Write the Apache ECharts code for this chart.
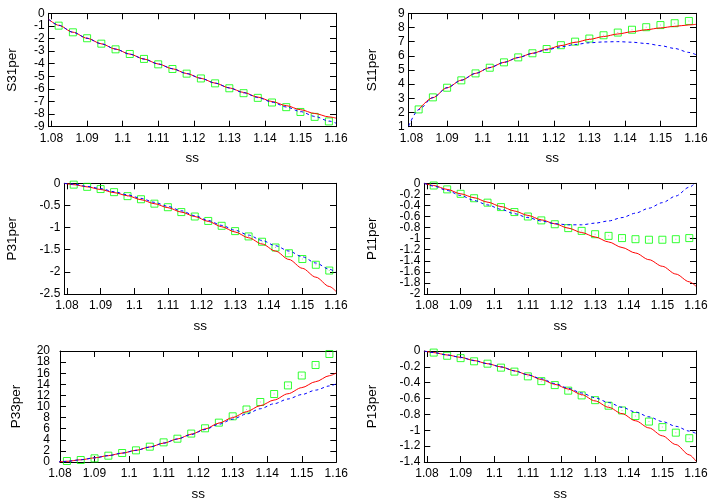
<!DOCTYPE html>
<html><head><meta charset="utf-8">
<script src="https://cdn.jsdelivr.net/npm/echarts@6/dist/echarts.min.js"></script>
<style>html,body{margin:0;padding:0;background:#fff}#c{width:720px;height:504px}</style>
</head><body><div id="c"></div>
<script>
// ---- data ----
const xTicks = [1.08, 1.09, 1.10, 1.11, 1.12, 1.13, 1.14, 1.15, 1.16];
const squareX = [1.082,1.086,1.090,1.094,1.098,1.102,1.106,1.110,1.114,1.118,1.122,1.126,1.130,1.134,1.138,1.142,1.146,1.150,1.154,1.158];
const lineX = [1.0792,1.082,1.086,1.090,1.094,1.098,1.102,1.106,1.110,1.114,1.118,1.122,1.126,1.130,1.134,1.138,1.142,1.146,1.150,1.154,1.158,1.16];

const panelNames = ['S31per','S11per','P31per','P11per','P33per','P13per'];
const xLabel = 'ss';

// y tick labels per panel (ascending)
const s31Ticks = [-9,-8,-7,-6,-5,-4,-3,-2,-1,0];
const s11Ticks = [1,2,3,4,5,6,7,8,9];
const p31Ticks = [-2.5,-2,-1.5,-1,-0.5,0];
const p11Ticks = [-2,-1.8,-1.6,-1.4,-1.2,-1,-0.8,-0.6,-0.4,-0.2,0];
const p33Ticks = [0,2,4,6,8,10,12,14,16,18,20];
const p13Ticks = [-1.4,-1.2,-1,-0.8,-0.6,-0.4,-0.2,0];

const s31Squares = [-0.98,-1.51,-1.98,-2.41,-2.86,-3.23,-3.62,-4.05,-4.42,-4.79,-5.17,-5.56,-5.95,-6.34,-6.71,-7.08,-7.45,-7.83,-8.22,-8.58];
const s31Red  = [-0.48,-0.95,-1.5,-1.98,-2.42,-2.84,-3.24,-3.63,-4.02,-4.4,-4.78,-5.16,-5.54,-5.92,-6.28,-6.65,-7.0,-7.33,-7.65,-7.95,-8.22,-8.32];
const s31Blue = [-0.48,-0.95,-1.5,-1.98,-2.42,-2.84,-3.24,-3.63,-4.02,-4.4,-4.78,-5.16,-5.54,-5.92,-6.3,-6.68,-7.05,-7.43,-7.8,-8.18,-8.55,-8.72];

const s11Squares = [2.22,3.07,3.75,4.27,4.76,5.16,5.54,5.89,6.18,6.48,6.75,7.0,7.22,7.45,7.64,7.84,8.02,8.17,8.3,8.46];
const s11Red  = [null,2.2,3.05,3.75,4.28,4.76,5.17,5.54,5.88,6.18,6.46,6.72,6.95,7.16,7.36,7.54,7.7,7.84,7.97,8.08,8.18,8.22];
const s11Blue = [1.05,2.2,3.05,3.75,4.28,4.76,5.17,5.54,5.88,6.17,6.42,6.63,6.8,6.92,6.98,7.0,6.96,6.87,6.72,6.52,6.24,6.08];

const p31Squares = [-0.03,-0.08,-0.13,-0.2,-0.29,-0.36,-0.46,-0.54,-0.65,-0.75,-0.85,-0.96,-1.08,-1.2,-1.32,-1.45,-1.58,-1.71,-1.84,-1.97];
const p31Red  = [0.0,-0.03,-0.08,-0.14,-0.21,-0.28,-0.37,-0.46,-0.55,-0.65,-0.75,-0.86,-0.98,-1.1,-1.23,-1.37,-1.53,-1.72,-1.92,-2.12,-2.33,-2.44];
const p31Blue = [0.0,-0.02,-0.07,-0.12,-0.19,-0.26,-0.34,-0.43,-0.52,-0.62,-0.73,-0.84,-0.95,-1.06,-1.17,-1.29,-1.41,-1.53,-1.66,-1.8,-1.94,-2.01];

const p11Squares = [-0.04,-0.11,-0.19,-0.27,-0.35,-0.43,-0.52,-0.6,-0.67,-0.74,-0.81,-0.86,-0.92,-0.95,-0.99,-1.01,-1.02,-1.02,-1.01,-0.99];
const p11Red  = [0.0,-0.04,-0.11,-0.19,-0.26,-0.34,-0.42,-0.5,-0.58,-0.66,-0.73,-0.81,-0.89,-0.97,-1.06,-1.16,-1.26,-1.38,-1.5,-1.64,-1.78,-1.86];
const p11Blue = [0.0,-0.05,-0.13,-0.22,-0.31,-0.39,-0.47,-0.55,-0.62,-0.68,-0.73,-0.75,-0.75,-0.72,-0.68,-0.62,-0.54,-0.45,-0.35,-0.23,-0.07,0.02];

const p33Squares = [0.18,0.36,0.66,1.14,1.62,2.1,2.76,3.54,4.2,5.12,6.07,7.09,8.23,9.46,10.81,12.25,13.8,15.58,17.48,19.46];
const p33Red  = [0.0,0.12,0.4,0.75,1.15,1.6,2.1,2.7,3.4,4.15,5.0,5.95,7.0,8.0,9.07,10.15,11.17,12.3,13.4,14.47,15.55,16.05];
const p33Blue = [0.0,0.12,0.4,0.75,1.15,1.6,2.1,2.7,3.4,4.15,4.95,5.85,6.8,7.72,8.65,9.6,10.5,11.35,12.15,12.95,13.7,14.1];

const p13Squares = [-0.02,-0.06,-0.09,-0.13,-0.16,-0.21,-0.26,-0.32,-0.38,-0.43,-0.5,-0.56,-0.62,-0.69,-0.75,-0.82,-0.89,-0.96,-1.03,-1.1];
const p13Red  = [0.0,-0.02,-0.05,-0.08,-0.12,-0.16,-0.2,-0.25,-0.3,-0.36,-0.42,-0.48,-0.55,-0.63,-0.71,-0.79,-0.88,-0.97,-1.07,-1.18,-1.31,-1.39];
const p13Blue = [0.0,-0.02,-0.05,-0.08,-0.12,-0.16,-0.2,-0.25,-0.3,-0.35,-0.41,-0.47,-0.53,-0.59,-0.65,-0.71,-0.77,-0.83,-0.89,-0.95,-1.01,-1.04];

// axis ranges
const yRanges = [[-9,0],[1,9],[-2.5,0],[-2.0005,0],[0,20],[-1.4,0]];
const xRanges = [[1.0792,1.16],[1.0792,1.16],[1.0792,1.16],[1.0792,1.16],[1.08,1.16],[1.0792,1.16]];

// ---- layout ----
const panelRects = [
  {left:48.7, top:13.3, width:287.3, height:113.4},
  {left:408.7, top:13.3, width:287.3, height:113.4},
  {left:64.3, top:183.3, width:271.7, height:110.7},
  {left:424.3, top:183.3, width:271.7, height:110.7},
  {left:60, top:351, width:276.3, height:111},
  {left:424.3, top:351, width:271.7, height:111}
];
const yNameGaps = [29, 29, 45, 45, 37, 45];
const yLabelMargins = [4, 4, 4, 4, 10, 4];

const yTicksAll = [s31Ticks, s11Ticks, p31Ticks, p11Ticks, p33Ticks, p13Ticks];
const squares = [s31Squares, s11Squares, p31Squares, p11Squares, p33Squares, p13Squares];
const reds = [s31Red, s11Red, p31Red, p11Red, p33Red, p13Red];
const blues = [s31Blue, s11Blue, p31Blue, p11Blue, p33Blue, p13Blue];

const FONT = 'Liberation Sans';
const black = '#000';
const NP = panelRects.length;
const GROUPS = 3;
// main grids 0..5, overlay grids (for y tick labels) 6..11
const grids = panelRects.concat(panelRects.map(r => Object.assign({}, r)));
const xAxes = [], yAxes = [], series = [];
panelRects.forEach((g, p) => {
  const [xmin, xmax] = xRanges[p];
  const [ymin, ymax] = yRanges[p];
  const yt = yTicksAll[p];
  const common = {gridIndex: p, type: 'value', splitLine: {show: false},
    axisLine: {show: true, onZero: false, lineStyle: {color: black, width: 1}}};
  const xi = xAxes.length;
  xAxes.push(Object.assign({}, common, {
    min: xmin, max: xmax, position: 'bottom',
    axisTick: {show: true, inside: true, length: 6, customValues: xTicks, lineStyle: {color: black}},
    axisLabel: {customValues: xTicks, color: black, fontSize: 12, fontFamily: FONT, margin: 6,
      showMinLabel: true, showMaxLabel: true},
    name: xLabel, nameLocation: 'middle', nameGap: 25,
    nameTextStyle: {color: black, fontSize: 13.5, fontFamily: FONT}
  }));
  xAxes.push(Object.assign({}, common, {
    min: xmin, max: xmax, position: 'top',
    axisTick: {show: true, inside: true, length: 6, customValues: xTicks, lineStyle: {color: black}},
    axisLabel: {show: false}
  }));
  const yi = yAxes.length;
  yAxes.push(Object.assign({}, common, {
    min: ymin, max: ymax, position: 'left',
    axisTick: {show: true, inside: true, length: 6, customValues: yt, lineStyle: {color: black}},
    axisLabel: {show: false},
    name: panelNames[p], nameLocation: 'middle', nameGap: yNameGaps[p], nameRotate: 90,
    nameTextStyle: {color: black, fontSize: 13.5, fontFamily: FONT}
  }));
  yAxes.push(Object.assign({}, common, {
    min: ymin, max: ymax, position: 'right',
    axisTick: {show: true, inside: true, length: 6, customValues: yt, lineStyle: {color: black}},
    axisLabel: {show: false}
  }));
  // overlay grid: tick labels only, split in groups so no two neighbours share an axis
  const og = NP + p;
  xAxes.push({gridIndex: og, type: 'value', min: xmin, max: xmax, show: false});
  for (let k = 0; k < GROUPS; k++) {
    const vals = yt.filter((v, i) => i % GROUPS === k);
    if (!vals.length) continue;
    yAxes.push({
      gridIndex: og, type: 'value', min: ymin, max: ymax, position: 'left', offset: 0,
      splitLine: {show: false}, axisLine: {show: false, onZero: false}, axisTick: {show: false},
      axisLabel: {customValues: vals, color: black, fontSize: 12, fontFamily: FONT,
        margin: yLabelMargins[p], showMinLabel: true, showMaxLabel: true, hideOverlap: false}
    });
  }
  series.push({
    type: 'scatter', xAxisIndex: xi, yAxisIndex: yi, silent: true, z: 2,
    symbol: 'rect', symbolSize: 7,
    itemStyle: {color: 'rgba(0,0,0,0)', borderColor: '#00ff00', borderWidth: 1},
    data: squareX.map((x, i) => [x, squares[p][i]])
  });
  series.push({
    type: 'scatter', xAxisIndex: xi, yAxisIndex: yi, silent: true, z: 2,
    symbol: 'rect', symbolSize: 1,
    itemStyle: {color: '#99cc99'},
    data: squareX.map((x, i) => [x, squares[p][i]])
  });
  series.push({
    type: 'line', xAxisIndex: xi, yAxisIndex: yi, silent: true, z: 3,
    showSymbol: false, smooth: 0.3, smoothMonotone: 'x', clip: true,
    lineStyle: {color: '#ff0000', width: 1},
    data: lineX.map((x, i) => [x, reds[p][i]]).filter(d => d[1] !== null)
  });
  series.push({
    type: 'line', xAxisIndex: xi, yAxisIndex: yi, silent: true, z: 4,
    showSymbol: false, smooth: 0.3, smoothMonotone: 'x', clip: true,
    lineStyle: {color: '#0000ff', width: 1, type: [3, 3]},
    data: lineX.map((x, i) => [x, blues[p][i]]).filter(d => d[1] !== null)
  });
});

const chart = echarts.init(document.getElementById('c'), null, {renderer: 'canvas'});
chart.setOption({
  animation: false,
  backgroundColor: '#fff',
  grid: grids,
  xAxis: xAxes,
  yAxis: yAxes,
  series: series
});
</script>
</body></html>
